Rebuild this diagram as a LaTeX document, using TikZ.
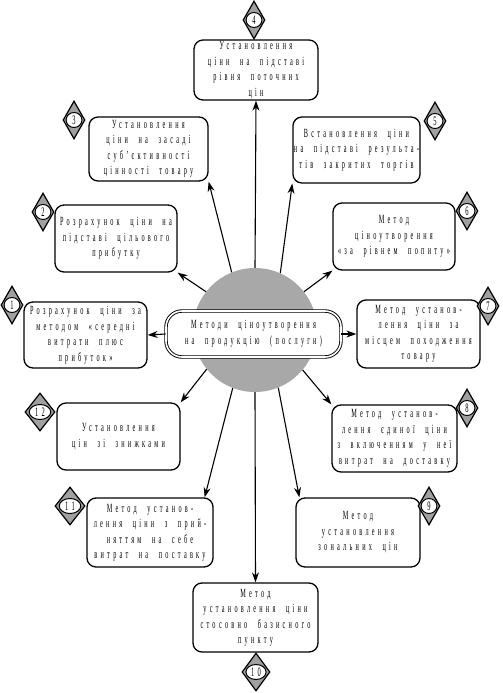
\documentclass[tikz,border=0pt]{standalone}
\usepackage{fontspec}
\setmainfont{Liberation Serif}[FakeStretch=0.5,LetterSpace=26,WordSpace=2.2]
\usetikzlibrary{shapes.geometric,arrows.meta}
\definecolor{cg}{HTML}{A8A8A8}
\definecolor{dg}{HTML}{A0A0A0}
\tikzset{
 box/.style={draw, line width=1.3pt, rounded corners=9pt, fill=white, align=center, inner sep=1pt, font=\fontsize{12.5}{15.5}\selectfont},
 arr/.style={line width=1.1pt, -{Stealth[length=10pt,width=7pt]}},
 dia/.style={diamond, draw, line width=1.2pt, fill=dg, inner sep=0pt, minimum height=38pt},
 num/.style={ellipse, draw, line width=1pt, fill=white, inner sep=0pt, minimum height=15pt, font=\fontsize{13}{13}\selectfont},
 cbox/.style={draw, double, double distance=1.6pt, line width=0.9pt, rounded corners=16pt, fill=white, align=center, inner sep=1pt, font=\fontsize{12.5}{16}\selectfont},
}
\newcommand\bx[6]{\node[box, minimum width=#4pt, minimum height=#5pt] (#1) at (#2,#3) {#6};}
\newcommand\dm[5]{\node[dia, minimum width=#4pt] (d#1) at (#2,#3) {};
 \node[num, minimum width=#4pt*0.72] (n#1) at (#2,#3) {#5};}
\begin{document}
\begin{tikzpicture}[x=1pt,y=-1pt]
\useasboundingbox (0,0) rectangle (503,693);
\node[circle, fill=cg, minimum size=124pt, inner sep=0pt] (circ) at (255,330) {};
\node[cbox, minimum width=175pt, minimum height=46pt] (cb) at (253.5,334) {Методи ціноутворення\\на продукцію (послуги)};

\bx{b4}{256}{70}{124}{60}{Установлення\\ціни на підставі\\рівня поточних\\цін}
\bx{b3}{148.5}{149}{119}{64}{Установлення\\ціни на засаді\\суб’єктивності\\цінності товару}
\bx{b5}{356.5}{150}{123}{66}{Встановлення ціни\\на підставі результа-\\тів закритих торгів}
\bx{b2}{116}{238.5}{122}{67}{Розрахунок ціни на\\підставі цільового\\прибутку}
\bx{b6}{394}{236.5}{122}{67}{Метод\\ціноутворення\\«за рівнем попиту»}
\bx{b1}{85.5}{335}{123}{66}{Розрахунок ціни за\\методом «середні\\витрати плюс\\прибуток»}
\bx{b7}{418.5}{334}{123}{68}{Метод установ-\\лення ціни за\\місцем походження\\товару}
\bx{b12}{118.5}{436.5}{123}{67}{Установлення\\цін зі знижками}
\bx{b8}{394.5}{438.5}{125}{67}{Метод установ-\\лення єдиної ціни\\з включенням у неї\\витрат на доставку}
\bx{b11}{150}{532.5}{126}{69}{Метод установ-\\лення ціни з прий-\\няттям на себе\\витрат на поставку}
\bx{b9}{358}{532.5}{124}{69}{Метод\\установлення\\зональних цін}
\bx{b10}{255.5}{617.5}{125}{69}{Метод\\установлення ціни\\стосовно базисного\\пункту}

\draw[arr] (circ.north) -- (b4.south);
\draw[arr] (circ.112) -- (b3.south east);
\draw[arr] (circ.66) -- (b5.south west);
\draw[arr] (circ.142) -- (b2.south east);
\draw[arr] (circ.38) -- (b6.south west);
\draw[arr] (circ.-141) -- (b12.north east);
\draw[arr] (circ.-40) -- (b8.north west);
\draw[arr] (circ.-111) -- ([xshift=-9pt]b11.north east);
\draw[arr] (circ.-68) -- ([xshift=4pt]b9.north west);
\draw[arr] (circ.south) -- (b10.north);
\draw[arr] (cb.west) -- (b1.east);
\draw[arr] (cb.east) -- (b7.west);

\dm{4}{254}{20}{22}{4}
\dm{3}{74}{120}{22}{3}
\dm{5}{435}{121}{22}{5}
\dm{2}{43}{212}{22}{2}
\dm{6}{467}{211}{22}{6}
\dm{1}{12}{305}{22}{1}
\dm{7}{488}{306}{22}{7}
\dm{12}{40}{412}{30}{12}
\dm{8}{467}{408}{22}{8}
\dm{11}{70}{506}{30}{11}
\dm{9}{429}{506}{22}{9}
\dm{10}{256}{672}{28}{10}
\end{tikzpicture}
\end{document}
